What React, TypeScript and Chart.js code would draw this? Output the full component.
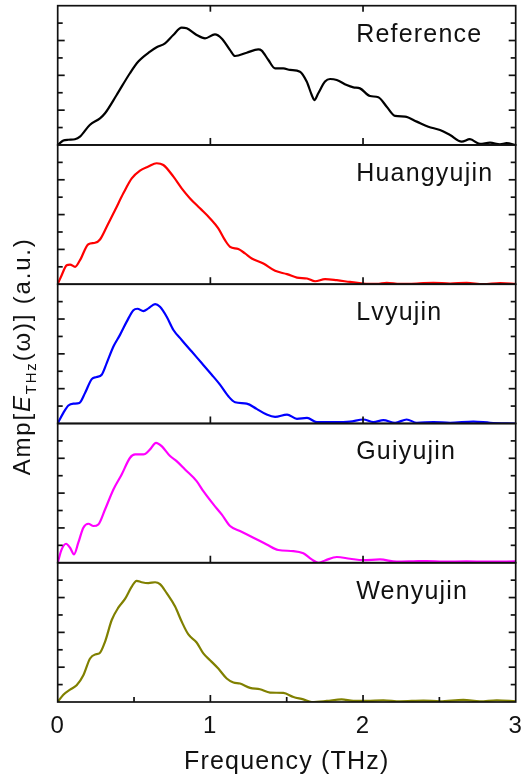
import React, { useEffect, useRef } from "react";
import { Chart, registerables } from "chart.js";

Chart.register(...registerables);

// ---------- data ----------
const PANEL_NAMES = ["Reference", "Huangyujin", "Lvyujin", "Guiyujin", "Wenyujin"];
const PANEL_COLORS = ["#000000", "#ff0000", "#0000ff", "#ff00ff", "#808000"];

const X_TICK_LABELS = ["0", "1", "2", "3"];
const X_MAJOR_TICKS = [1, 2];
const X_MINOR_TICKS = [0.5, 1.5, 2.5];
const Y_MAX = 8;

const refFreq = [0, 0.037, 0.07, 0.113, 0.146, 0.21, 0.277, 0.31, 0.386, 0.473, 0.528, 0.605, 0.648, 0.703, 0.757, 0.812, 0.845, 0.91, 0.965, 1.03, 1.074, 1.129, 1.162, 1.238, 1.314, 1.336, 1.38, 1.424, 1.478, 1.522, 1.587, 1.631, 1.664, 1.681, 1.707, 1.751, 1.784, 1.828, 1.893, 1.937, 1.98, 2.046, 2.1, 2.155, 2.21, 2.275, 2.352, 2.428, 2.504, 2.57, 2.646, 2.7, 2.766, 2.832, 2.897, 2.94, 3.0];
const refAmp = [0, 0.25, 0.3, 0.33, 0.48, 1.15, 1.53, 1.82, 2.87, 4.12, 4.79, 5.36, 5.61, 5.84, 6.32, 6.74, 6.7, 6.32, 6.12, 6.35, 6.12, 5.45, 5.11, 5.3, 5.49, 5.42, 4.88, 4.4, 4.4, 4.31, 4.21, 3.64, 2.87, 2.58, 2.97, 3.64, 3.79, 3.73, 3.44, 3.31, 3.25, 2.81, 2.74, 2.2, 1.67, 1.63, 1.34, 1.05, 0.86, 0.57, 0.19, 0.33, 0.06, 0.13, 0.04, 0.1, 0];

const huangFreq = [0, 0.026, 0.059, 0.081, 0.114, 0.146, 0.201, 0.245, 0.277, 0.321, 0.376, 0.43, 0.485, 0.539, 0.594, 0.648, 0.692, 0.758, 0.812, 0.867, 0.932, 0.998, 1.052, 1.096, 1.129, 1.183, 1.227, 1.271, 1.347, 1.424, 1.502, 1.567, 1.633, 1.686, 1.751, 1.828, 1.915, 2.002, 2.09, 2.155, 2.242, 2.352, 2.461, 2.57, 2.679, 2.788, 2.898, 3.0];
const huangAmp = [0, 0.52, 1.09, 1.13, 1.0, 1.38, 2.3, 2.38, 2.57, 3.3, 4.26, 5.22, 6.08, 6.53, 6.76, 6.95, 6.85, 6.18, 5.51, 4.93, 4.36, 3.78, 3.21, 2.53, 2.15, 2.02, 1.77, 1.48, 1.19, 0.77, 0.58, 0.38, 0.33, 0.17, 0.29, 0.23, 0.13, 0.04, 0.02, 0.08, 0.02, 0.04, 0.08, 0.04, 0.08, 0, 0.06, 0.02];

const lvFreq = [0, 0.037, 0.07, 0.103, 0.142, 0.179, 0.223, 0.255, 0.288, 0.321, 0.365, 0.408, 0.452, 0.496, 0.522, 0.561, 0.594, 0.638, 0.67, 0.714, 0.758, 0.812, 0.878, 0.943, 1.009, 1.063, 1.118, 1.162, 1.238, 1.303, 1.369, 1.424, 1.502, 1.567, 1.633, 1.697, 1.806, 1.915, 2.002, 2.068, 2.133, 2.21, 2.286, 2.352, 2.461, 2.57, 2.723, 2.832, 3.0];
const lvAmp = [0, 0.61, 1.03, 1.14, 1.18, 1.75, 2.55, 2.67, 2.8, 3.47, 4.42, 5.09, 5.85, 6.51, 6.59, 6.46, 6.61, 6.86, 6.7, 6.13, 5.37, 4.8, 4.13, 3.47, 2.8, 2.23, 1.56, 1.22, 1.14, 0.84, 0.51, 0.38, 0.51, 0.27, 0.32, 0.08, 0.08, 0.11, 0.23, 0.08, 0.19, 0.04, 0.23, 0.04, 0.08, 0.04, 0.11, 0.04, 0];

const guiFreq = [0, 0.026, 0.055, 0.081, 0.107, 0.135, 0.168, 0.201, 0.234, 0.266, 0.31, 0.365, 0.419, 0.474, 0.507, 0.561, 0.605, 0.644, 0.681, 0.736, 0.779, 0.834, 0.91, 0.954, 1.02, 1.074, 1.129, 1.194, 1.282, 1.369, 1.445, 1.544, 1.609, 1.664, 1.707, 1.751, 1.828, 1.915, 2.002, 2.111, 2.22, 2.33, 2.417, 2.526, 2.679, 2.81, 3.0];
const guiAmp = [0, 0.77, 1.09, 0.86, 0.48, 1.15, 2.01, 2.24, 2.11, 2.2, 3.06, 4.21, 5.07, 6.03, 6.22, 6.22, 6.51, 6.89, 6.7, 6.13, 5.84, 5.36, 4.69, 4.11, 3.35, 2.78, 2.11, 1.82, 1.44, 1.05, 0.73, 0.67, 0.54, 0.19, 0, 0.13, 0.33, 0.23, 0.15, 0.19, 0.06, 0.08, 0.1, 0.06, 0.08, 0.06, 0.08];

const wenFreq = [0, 0.037, 0.081, 0.124, 0.168, 0.212, 0.245, 0.273, 0.31, 0.354, 0.397, 0.441, 0.485, 0.517, 0.55, 0.594, 0.638, 0.67, 0.714, 0.769, 0.812, 0.856, 0.91, 0.954, 0.998, 1.052, 1.107, 1.151, 1.194, 1.26, 1.325, 1.391, 1.478, 1.544, 1.609, 1.664, 1.762, 1.86, 1.937, 2.024, 2.133, 2.242, 2.395, 2.504, 2.657, 2.766, 2.876, 3.0];
const wenAmp = [0, 0.42, 0.71, 0.96, 1.54, 2.5, 2.73, 2.79, 3.46, 4.71, 5.42, 5.92, 6.63, 6.96, 6.88, 6.83, 6.88, 6.77, 6.25, 5.48, 4.62, 3.88, 3.42, 2.79, 2.4, 1.92, 1.35, 1.12, 1.06, 0.81, 0.73, 0.54, 0.52, 0.29, 0.15, 0, 0.06, 0.15, 0.06, 0.06, 0.1, 0.04, 0.08, 0.04, 0.12, 0.04, 0.1, 0.04];

const SERIES_FREQ = [refFreq, huangFreq, lvFreq, guiFreq, wenFreq];
const SERIES_AMP = [refAmp, huangAmp, lvAmp, guiAmp, wenAmp];

// ---------- drawing ----------
const PANEL_IDS = ["y0", "y1", "y2", "y3", "y4"];
const FONT = '"Liberation Sans", Arial, Helvetica, sans-serif';
const SPACING = "1.2px";

const decorPlugin = {
  id: "decor",
  beforeUpdate(chart: any) {
    chart.ctx.letterSpacing = SPACING;
  },
  beforeDraw(chart: any) {
    chart.ctx.letterSpacing = SPACING;
    const ctx = chart.ctx;
    ctx.save();
    ctx.fillStyle = "#ffffff";
    ctx.fillRect(0, 0, chart.width, chart.height);
    ctx.restore();
  },
  afterDatasetsDraw(chart: any) {
    const ctx = chart.ctx;
    const xs = chart.scales.x;
    const left = xs.getPixelForValue(0);
    const right = xs.getPixelForValue(3);
    const line = (x1: number, y1: number, x2: number, y2: number) => {
      ctx.beginPath();
      ctx.moveTo(x1, y1);
      ctx.lineTo(x2, y2);
      ctx.stroke();
    };
    ctx.save();
    ctx.strokeStyle = "#111111";
    ctx.lineWidth = 1.7;
    PANEL_IDS.forEach((id, i) => {
      const ys = chart.scales[id];
      const top = ys.getPixelForValue(Y_MAX);
      const bot = ys.getPixelForValue(0);
      ctx.strokeRect(left, top, right - left, bot - top);
      for (let v = 1; v < Y_MAX; v++) {
        const y = ys.getPixelForValue(v);
        const len = v % 2 === 0 ? 7 : 5;
        line(left, y, left + len, y);
        line(right, y, right - len, y);
      }
      X_MAJOR_TICKS.forEach((f) => {
        const x = xs.getPixelForValue(f);
        line(x, bot, x, bot - 7);
        if (i === 0) line(x, top, x, top + 6);
      });
      if (i === PANEL_IDS.length - 1) {
        X_MINOR_TICKS.forEach((f) => {
          const x = xs.getPixelForValue(f);
          line(x, bot, x, bot - 5);
        });
      }
    });

    // panel names
    ctx.fillStyle = "#111111";
    ctx.letterSpacing = SPACING;
    ctx.font = `25px ${FONT}`;
    ctx.textAlign = "left";
    ctx.textBaseline = "alphabetic";
    PANEL_IDS.forEach((id, i) => {
      const ys = chart.scales[id];
      const top = ys.getPixelForValue(Y_MAX);
      ctx.fillText(PANEL_NAMES[i], left + 298.5, top + 36);
    });

    // y-axis title: Amp[E_THz(ω)] (a.u.)
    const firstTop = chart.scales[PANEL_IDS[0]].getPixelForValue(Y_MAX);
    const lastBot = chart.scales[PANEL_IDS[PANEL_IDS.length - 1]].getPixelForValue(0);
    const cy = (firstTop + lastBot) / 2 + 2.5;
    const parts = [
      { t: "Amp[", f: `24px ${FONT}`, dy: 0 },
      { t: "E", f: `italic 24px ${FONT}`, dy: 0 },
      { t: "THz", f: `15px ${FONT}`, dy: 6 },
      { t: "(ω)] (a.u.)", f: `24px ${FONT}`, dy: 0 },
    ];
    ctx.letterSpacing = "1.8px";
    let total = 0;
    parts.forEach((p) => {
      ctx.font = p.f;
      total += ctx.measureText(p.t).width;
    });
    ctx.translate(29.5, cy);
    ctx.rotate(-Math.PI / 2);
    let x = -total / 2;
    parts.forEach((p) => {
      ctx.font = p.f;
      ctx.fillText(p.t, x, p.dy);
      x += ctx.measureText(p.t).width;
    });
    ctx.restore();
    ctx.letterSpacing = SPACING;
  },
};

export default function App() {
  const canvasRef = useRef<HTMLCanvasElement | null>(null);

  useEffect(() => {
    const canvas = canvasRef.current;
    if (!canvas) return;

    const datasets = PANEL_NAMES.map((name, i) => ({
      label: name,
      data: SERIES_FREQ[i].map((f, k) => ({ x: f, y: SERIES_AMP[i][k] })),
      borderColor: PANEL_COLORS[i],
      backgroundColor: PANEL_COLORS[i],
      borderWidth: 2.2,
      pointRadius: 0,
      pointHoverRadius: 0,
      fill: false,
      cubicInterpolationMode: "monotone" as const,
      yAxisID: PANEL_IDS[i],
    }));

    const yScales: any = {};
    // defined bottom-first so the stack shows Reference on top
    [...PANEL_IDS].reverse().forEach((id) => {
      yScales[id] = {
        type: "linear",
        min: 0,
        max: Y_MAX,
        position: "left",
        stack: "panels",
        stackWeight: 1,
        offset: false,
        display: true,
        grid: { display: false, drawTicks: false },
        border: { display: false },
        ticks: { display: false },
        title: { display: false },
        afterFit: (s: any) => {
          s.width = 0;
          s.paddingTop = 0;
          s.paddingBottom = 0;
        },
      };
    });

    const chart = new Chart(canvas, {
      type: "line",
      data: { datasets },
      options: {
        responsive: false,
        animation: false,
        devicePixelRatio: 1,
        layout: { padding: { left: 57.7, right: 9.3, top: 5.7, bottom: 5.2 } },
        plugins: {
          legend: { display: false },
          tooltip: { enabled: false },
        },
        scales: {
          x: {
            type: "linear",
            min: 0,
            max: 3,
            position: "bottom",
            grid: { display: false, drawTicks: false },
            border: { display: false },
            ticks: {
              stepSize: 1,
              padding: 10,
              color: "#111111",
              font: { family: FONT, size: 24, lineHeight: 1.2 },
              maxRotation: 0,
              callback: (v: any) => X_TICK_LABELS[Math.round(Number(v))] ?? "",
            },
            title: {
              display: true,
              text: "Frequency (THz)",
              color: "#111111",
              font: { family: FONT, size: 25, lineHeight: 1.2 },
              padding: { top: 6, bottom: 0 },
            },
            afterFit: (s: any) => {
              s.height = 74.8;
              s.paddingLeft = 0;
              s.paddingRight = 0;
            },
          },
          ...yScales,
        },
      },
      plugins: [decorPlugin],
    });

    return () => chart.destroy();
  }, []);

  return (
    <div style={{ position: "absolute", left: 0, top: 0, width: 525, height: 782, background: "#fff" }}>
      <canvas ref={canvasRef} width={525} height={782} style={{ display: "block" }} />
    </div>
  );
}
